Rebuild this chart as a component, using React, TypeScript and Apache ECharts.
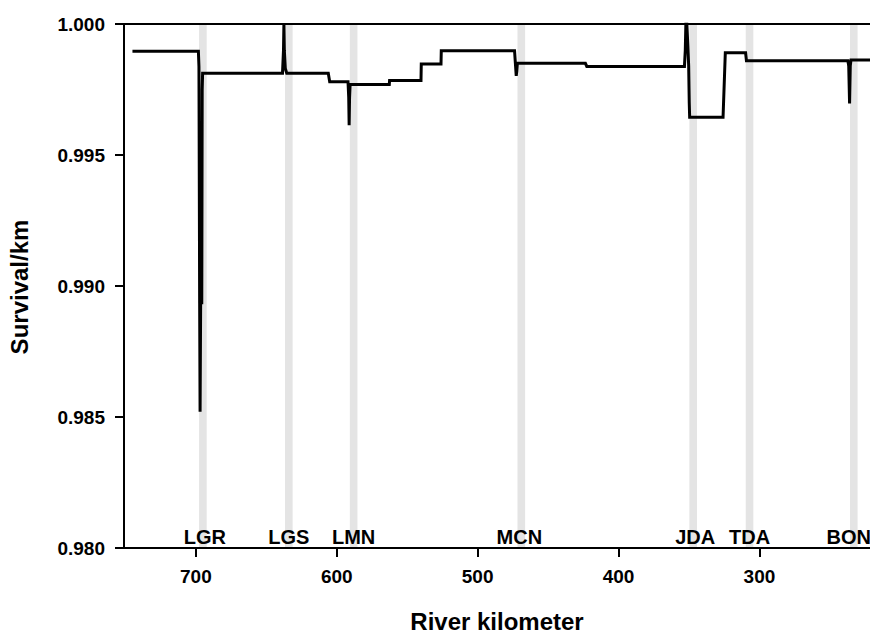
import React, { useEffect, useRef } from "react";
import * as echarts from "echarts";

// River kilometer of each point on the survival/km profile
const riverKm = [
  745, 698.2, 697.8, 697.3, 697.0, 696.6, 696.2, 695.8, 695.5, 695.2,
  638.5, 637.8, 637.5, 637.2, 636.5, 635.5, 606, 605, 592, 591.5,
  591.2, 590.9, 590.5, 562.7, 562.5, 540.2, 540, 526, 525.8, 473.8,
  473.2, 472.6, 472.2, 471.8, 423.5, 422.5, 353.2, 352.6, 352.2, 351.5,
  350.8, 350.2, 349.8, 349.5, 325.8, 324.2, 309.8, 309.2, 237.2, 236.6,
  236.0, 235.5, 235.0, 215,
];
// Survival per km at each point
const survivalPerKm = [
  0.99896, 0.99896, 0.99837, 0.9893, 0.9852, 0.9893, 0.9905, 0.9893, 0.9975, 0.99812,
  0.99812, 0.999, 1.0, 0.999, 0.9983, 0.99812, 0.99812, 0.9978, 0.9978, 0.9972,
  0.99614, 0.9972, 0.99769, 0.99769, 0.99784, 0.99784, 0.99847, 0.99847, 0.99898, 0.99898,
  0.9985, 0.99802, 0.9982, 0.9985, 0.9985, 0.99838, 0.99838, 0.999, 1.0, 1.0,
  0.9992, 0.9984, 0.997, 0.99644, 0.99644, 0.9989, 0.9989, 0.9986, 0.9986, 0.9984,
  0.99697, 0.9984, 0.99863, 0.99863,
];
// Dams
const damNames = ["LGR", "LGS", "LMN", "MCN", "JDA", "TDA", "BON"];
const damKm = [695, 634, 588, 469, 347, 307, 233];
const damLabelShift = [2, 0, 0, -2, 2, 0, -5];
const damHalfWidth = 2.7;
// Axis ticks
const xTickValues = [700, 600, 500, 400, 300];
const yMin = 0.98;
const yMax = 1.0;
const yInterval = 0.005;
const xMin = 221.5;
const xMax = 751;

const FONT = "'Liberation Sans', Arial, sans-serif";

export default function App() {
  const ref = useRef<HTMLDivElement>(null);

  useEffect(() => {
    document.body.style.margin = "0";
    const chart = echarts.init(ref.current!, null, { renderer: "svg" });
    const lineData = riverKm.map((k, i) => [k, survivalPerKm[i]]);
    const bands = damKm.map((k, i) => [
      {
        xAxis: k + damHalfWidth,
        yAxis: yMin,
        name: damNames[i],
        label: { offset: [damLabelShift[i], 0] },
      },
      { xAxis: k - damHalfWidth, yAxis: yMax },
    ]);

    chart.setOption({
      animation: false,
      backgroundColor: "#ffffff",
      grid: {
        left: 124,
        top: 24,
        bottom: 85,
        right: 0,
        show: false,
      },
      xAxis: [
        {
          type: "value",
          inverse: true,
          min: xMin,
          max: xMax,
          z: 3,
          axisLine: { show: true, lineStyle: { color: "#000", width: 2 } },
          axisTick: {
            show: true,
            length: 9,
            inside: false,
            customValues: xTickValues,
            lineStyle: { color: "#000", width: 2 },
          },
          axisLabel: {
            customValues: xTickValues,
            margin: 19,
            color: "#000",
            fontSize: 19,
            fontWeight: "bold",
            fontFamily: FONT,
          },
          splitLine: { show: false },
        },
        {
          type: "value",
          position: "top",
          inverse: true,
          min: xMin,
          max: xMax,
          z: 3,
          axisLine: { show: true, lineStyle: { color: "#000", width: 2 } },
          axisTick: { show: false },
          axisLabel: { show: false },
          splitLine: { show: false },
        },
      ],
      yAxis: {
        type: "value",
        min: yMin,
        max: yMax,
        interval: yInterval,
        z: 3,
        axisLine: { show: true, lineStyle: { color: "#000", width: 2 } },
        axisTick: {
          show: true,
          length: 9,
          inside: false,
          lineStyle: { color: "#000", width: 2 },
        },
        axisLabel: {
          margin: 19,
          color: "#000",
          fontSize: 19,
          fontWeight: "bold",
          fontFamily: FONT,
          formatter: (v: number) => v.toFixed(3),
        },
        splitLine: { show: false },
      },
      series: [
        {
          type: "line",
          name: "dams",
          data: [],
          z: 1,
          silent: true,
          markArea: {
            silent: true,
            itemStyle: { color: "#e4e4e4" },
            label: {
              show: true,
              position: "insideBottom",
              distance: 1,
              color: "#000",
              fontSize: 20,
              fontWeight: "bold",
              fontFamily: FONT,
            },
            data: bands,
          },
        },
        {
          type: "line",
          name: "Survival/km",
          data: lineData,
          z: 5,
          showSymbol: false,
          symbol: "none",
          clip: true,
          lineStyle: { color: "#000", width: 3, join: "miter" },
        },
      ],
      graphic: [
        {
          type: "text",
          x: 19,
          y: 287,
          rotation: Math.PI / 2,
          style: {
            text: "Survival/km",
            fill: "#000",
            font: `bold 24px ${FONT}`,
            textAlign: "center",
            textVerticalAlign: "middle",
          },
        },
        {
          type: "text",
          x: 497,
          y: 621,
          style: {
            text: "River kilometer",
            fill: "#000",
            font: `bold 24px ${FONT}`,
            textAlign: "center",
            textVerticalAlign: "middle",
          },
        },
      ],
    });
    return () => chart.dispose();
  }, []);

  return (
    <div
      ref={ref}
      style={{ position: "fixed", left: 0, top: 0, width: 870, height: 633 }}
    />
  );
}
